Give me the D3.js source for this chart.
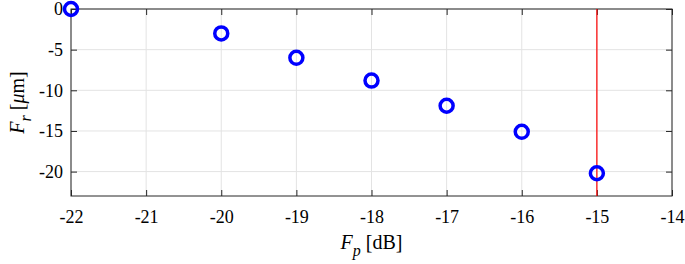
<!DOCTYPE html>
<html>
<head>
<meta charset="utf-8">
<script src="https://cdn.jsdelivr.net/npm/d3@7"></script>
<style>
  body { margin: 0; background: #fff; }
</style>
</head>
<body>
<div id="chart"></div>
<script>
(function () {
  const fp = [-22, -20, -19, -18, -17, -16, -15];
  const fr = [0, -3.0, -6.0, -8.8, -11.9, -15.1, -20.2];
  const xTicks = [-22, -21, -20, -19, -18, -17, -16, -15, -14];
  const yTicks = [0, -5, -10, -15, -20];
  const limitX = [-15];

  const W = 685, H = 264;
  const margin = {top: 9, right: 13, bottom: 68, left: 71};
  const width = W - margin.left - margin.right;
  const height = H - margin.top - margin.bottom;
  const serif = "Liberation Serif";

  const svg = d3.select("#chart").append("svg")
    .attr("width", W)
    .attr("height", H);

  const g = svg.append("g")
    .attr("transform", "translate(" + margin.left + "," + margin.top + ")");

  const x = d3.scaleLinear().domain([-22, -14]).range([0, width]);
  const y = d3.scaleLinear().domain([-23, 0]).range([height, 0]);
  const fmt = d => String(d);

  // grid
  g.append("g").selectAll("line").data(xTicks).join("line")
    .attr("x1", d => x(d)).attr("x2", d => x(d))
    .attr("y1", 0).attr("y2", height)
    .attr("stroke", "#e3e3e3").attr("stroke-width", 1);
  g.append("g").selectAll("line").data(yTicks).join("line")
    .attr("x1", 0).attr("x2", width)
    .attr("y1", d => y(d)).attr("y2", d => y(d))
    .attr("stroke", "#e3e3e3").attr("stroke-width", 1);

  // axes, ticks inward
  const axisColor = "#262626";
  function styleAxis(sel, showText) {
    sel.select(".domain").remove();
    sel.selectAll(".tick line").attr("stroke", axisColor);
    if (!showText) sel.selectAll(".tick text").remove();
    sel.selectAll(".tick text")
      .style("font-family", serif)
      .style("font-size", "18px")
      .style("fill", "#000");
  }

  g.append("g")
    .attr("transform", "translate(0," + height + ")")
    .call(d3.axisBottom(x).tickValues(xTicks).tickSizeInner(-6).tickPadding(14).tickFormat(fmt))
    .call(s => styleAxis(s, true));
  g.append("g")
    .call(d3.axisTop(x).tickValues(xTicks).tickSizeInner(-6))
    .call(s => styleAxis(s, false));
  g.append("g")
    .call(d3.axisLeft(y).tickValues(yTicks).tickSizeInner(-6).tickPadding(8).tickFormat(fmt))
    .call(s => styleAxis(s, true));
  g.append("g")
    .attr("transform", "translate(" + width + ",0)")
    .call(d3.axisRight(y).tickValues(yTicks).tickSizeInner(-6))
    .call(s => styleAxis(s, false));

  g.append("rect")
    .attr("width", width).attr("height", height)
    .attr("fill", "none").attr("stroke", axisColor).attr("stroke-width", 1);

  // red vertical line
  g.selectAll(".limit").data(limitX).join("line")
    .attr("class", "limit")
    .attr("x1", d => x(d)).attr("x2", d => x(d))
    .attr("y1", 0).attr("y2", height)
    .attr("stroke", "#ff0000").attr("stroke-width", 1.2);

  // points
  g.selectAll(".pt").data(fp).join("circle")
    .attr("class", "pt")
    .attr("cx", d => x(d))
    .attr("cy", (d, i) => y(fr[i]))
    .attr("r", 6.5)
    .attr("fill", "none")
    .attr("stroke", "#0000ff")
    .attr("stroke-width", 3.5);

  // axis labels
  const xl = svg.append("text")
    .attr("x", margin.left + width / 2)
    .attr("y", 249)
    .attr("text-anchor", "middle")
    .style("font-family", serif)
    .style("font-size", "20px");
  xl.append("tspan").style("font-style", "italic").text("F");
  xl.append("tspan").style("font-style", "italic").attr("dy", 7).style("font-size", "16px").text("p");
  xl.append("tspan").attr("dy", -7).text(" [dB]");

  const yl = svg.append("text")
    .attr("transform", "translate(24," + (margin.top + height / 2) + ") rotate(-90)")
    .attr("text-anchor", "middle")
    .style("font-family", serif)
    .style("font-size", "20px");
  yl.append("tspan").style("font-style", "italic").text("F");
  yl.append("tspan").style("font-style", "italic").attr("dy", 7).style("font-size", "16px").text("r");
  yl.append("tspan").attr("dy", -7).text(" [");
  yl.append("tspan").style("font-style", "italic").text("μ");
  yl.append("tspan").text("m]");
})();
</script>
</body>
</html>
